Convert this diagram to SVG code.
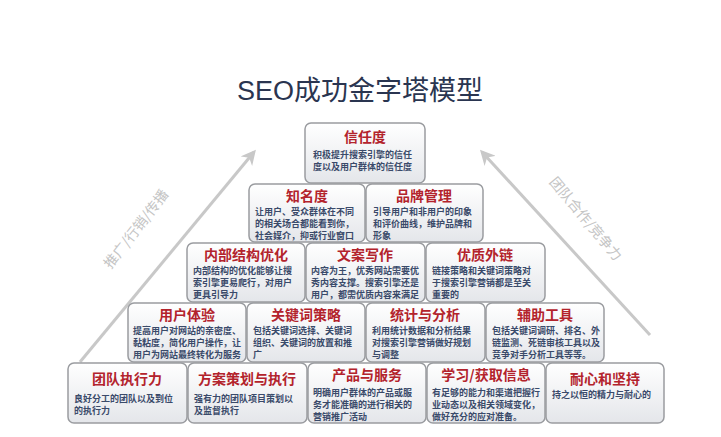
<svg xmlns="http://www.w3.org/2000/svg" width="721" height="437" viewBox="0 0 721 437">
<defs>
<linearGradient id="g" x1="0" y1="0" x2="0" y2="1"><stop offset="0" stop-color="#ffffff"/><stop offset="1" stop-color="#e4e6ea"/></linearGradient>
<marker id="ah" viewBox="0 0 10 10" refX="8" refY="5" markerWidth="5" markerHeight="5" orient="auto"><path d="M0,0 L10,5 L0,10 L3,5 Z" fill="#c8c8c8"/></marker>
<style>
.b{fill:url(#g);stroke:#9a9ca0;stroke-width:1.5}
.t{font-family:"Noto Sans CJK SC",sans-serif;font-weight:bold;font-size:14px;fill:#b3232c;text-anchor:middle}
.d{font-family:"Noto Sans CJK SC",sans-serif;font-weight:bold;font-size:9px;fill:#3a4a6a}
.a{stroke:#c8c8c8;stroke-width:3;fill:none}
.s{font-family:"Noto Sans CJK SC",sans-serif;font-size:14px;fill:#c4c4c4;text-anchor:middle}
</style>
</defs>
<rect width="721" height="437" fill="#fff"/>
<text x="360" y="100" font-family="Liberation Sans,Noto Sans CJK SC,sans-serif" font-size="27" fill="#2a3550" text-anchor="middle">SEO成功金字塔模型</text>
<g id="connectors">
<path class="a" d="M80,362 L254,152" marker-end="url(#ah)"/>
<path class="a" d="M650,335 L482,152" marker-end="url(#ah)"/>
<text class="s" transform="translate(140,232) rotate(-52)">推广/行销/传播</text>
<text class="s" transform="translate(582,222) rotate(50)">团队合作/竞争力</text>
</g>
<g id="n1"><rect class="b" x="305" y="123" width="120" height="60" rx="6"/><text class="t" x="365" y="142">信任度</text><text class="d" x="313" y="158">积极提升搜索引擎的信任</text><text class="d" x="313" y="170">度以及用户群体的信任度</text></g>
<g id="n2"><rect class="b" x="249" y="184" width="116" height="58" rx="6"/><text class="t" x="307" y="201">知名度</text><text class="d" x="255" y="215">让用户、受众群体在不同</text><text class="d" x="255" y="227">的相关场合都能看到你，</text><text class="d" x="255" y="239">社会媒介，抑或行业窗口</text></g>
<g id="n3"><rect class="b" x="366" y="184" width="117" height="58" rx="6"/><text class="t" x="424" y="201">品牌管理</text><text class="d" x="373" y="215">引导用户和非用户的印象</text><text class="d" x="373" y="227">和评价曲线，维护品牌和</text><text class="d" x="373" y="239">形象</text></g>
<g id="n4"><rect class="b" x="187" y="243" width="118" height="59" rx="6"/><text class="t" x="246" y="260">内部结构优化</text><text class="d" x="193" y="274">内部结构的优化能够让搜</text><text class="d" x="193" y="286">索引擎更易爬行，对用户</text><text class="d" x="193" y="298">更具引导力</text></g>
<g id="n5"><rect class="b" x="306" y="243" width="119" height="59" rx="6"/><text class="t" x="365" y="260">文案写作</text><text class="d" x="311" y="274">内容为王，优秀网站需要优</text><text class="d" x="311" y="286">秀内容支撑。搜索引擎还是</text><text class="d" x="311" y="298">用户，都需优质内容来满足</text></g>
<g id="n6"><rect class="b" x="426" y="243" width="119" height="59" rx="6"/><text class="t" x="485" y="260">优质外链</text><text class="d" x="432" y="274">链接策略和关键词策略对</text><text class="d" x="432" y="286">于搜索引擎营销都是至关</text><text class="d" x="432" y="298">重要的</text></g>
<g id="n7"><rect class="b" x="128" y="303" width="118" height="59" rx="6"/><text class="t" x="187" y="320">用户体验</text><text class="d" x="133" y="334">提高用户对网站的亲密度、</text><text class="d" x="133" y="346">黏粘度，简化用户操作，让</text><text class="d" x="133" y="358">用户为网站最终转化为服务</text></g>
<g id="n8"><rect class="b" x="247" y="303" width="118" height="59" rx="6"/><text class="t" x="306" y="320">关键词策略</text><text class="d" x="253" y="334">包括关键词选择、关键词</text><text class="d" x="253" y="346">组织、关键词的放置和推</text><text class="d" x="253" y="358">广</text></g>
<g id="n9"><rect class="b" x="366" y="303" width="119" height="59" rx="6"/><text class="t" x="425" y="320">统计与分析</text><text class="d" x="372" y="334">利用统计数据和分析结果</text><text class="d" x="372" y="346">对搜索引擎营销做好规划</text><text class="d" x="372" y="358">与调整</text></g>
<g id="n10"><rect class="b" x="486" y="303" width="118" height="59" rx="6"/><text class="t" x="545" y="320">辅助工具</text><text class="d" x="492" y="334">包括关键词调研、排名、外</text><text class="d" x="492" y="346">链监测、死链审核工具以及</text><text class="d" x="492" y="358">竞争对手分析工具等等。</text></g>
<g id="n11"><rect class="b" x="68" y="363" width="119" height="60" rx="6"/><text class="t" x="127" y="384">团队执行力</text><text class="d" x="74" y="402">良好分工的团队以及到位</text><text class="d" x="74" y="414">的执行力</text></g>
<g id="n12"><rect class="b" x="188" y="363" width="119" height="60" rx="6"/><text class="t" x="247" y="384">方案策划与执行</text><text class="d" x="194" y="402">强有力的团队项目策划以</text><text class="d" x="194" y="414">及监督执行</text></g>
<g id="n13"><rect class="b" x="308" y="363" width="118" height="60" rx="6"/><text class="t" x="367" y="380">产品与服务</text><text class="d" x="313" y="396">明确用户群体的产品或服</text><text class="d" x="313" y="408">务才能准确的进行相关的</text><text class="d" x="313" y="420">营销推广活动</text></g>
<g id="n14"><rect class="b" x="427" y="363" width="118" height="60" rx="6"/><text class="t" x="486" y="380">学习/获取信息</text><text class="d" x="432" y="396">有足够的能力和渠道把握行</text><text class="d" x="432" y="408">业动态以及相关领域变化，</text><text class="d" x="432" y="420">做好充分的应对准备。</text></g>
<g id="n15"><rect class="b" x="546" y="363" width="118" height="60" rx="6"/><text class="t" x="605" y="384">耐心和坚持</text><text class="d" x="552" y="398">持之以恒的精力与耐心的</text></g>
</svg>
